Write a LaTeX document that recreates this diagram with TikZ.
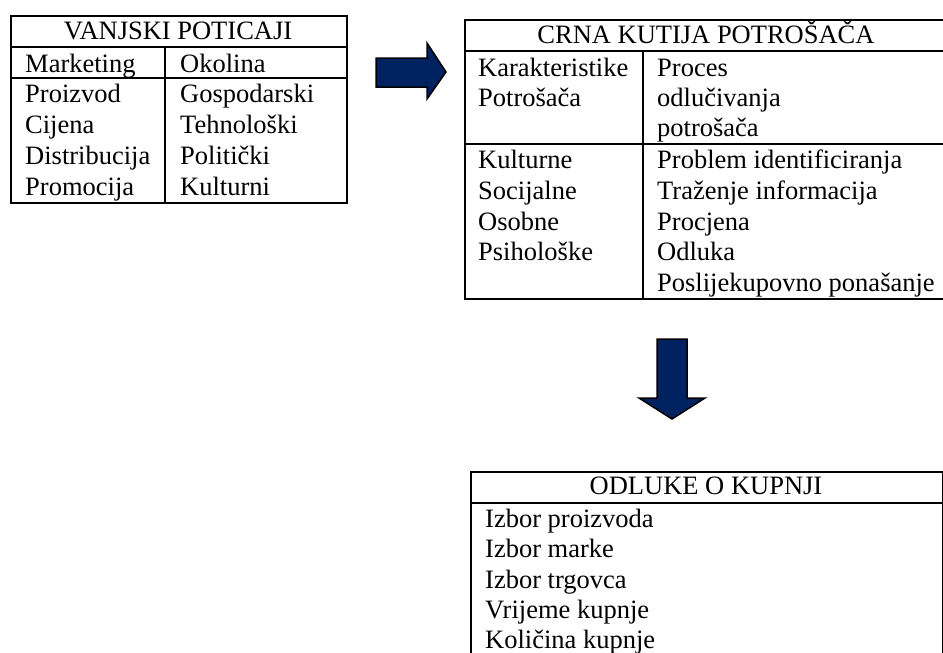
\documentclass[tikz,border=0pt]{standalone}
\usepackage{fontspec}
\setmainfont{Liberation Serif}
\definecolor{navy}{RGB}{0,34,96}
\begin{document}
\begin{tikzpicture}[x=1pt,y=-1pt,
  frame/.style={draw=black,line width=2.2pt},
  divline/.style={draw=black,line width=2.2pt},
  txt/.style={anchor=base west,inner sep=0pt,font=\fontsize{26.5}{30}\selectfont},
  hdr/.style={anchor=base,inner sep=0pt,font=\fontsize{26.5}{30}\selectfont},
  blockarrow/.style={fill=navy,draw=black,line width=1.5pt,line join=miter}]
\useasboundingbox (0,0) rectangle (943,653);
\begin{scope}
\clip (0,0) rectangle (943,653);
% Box 1: VANJSKI POTICAJI
\node[frame,rectangle,inner sep=0pt,minimum width=336pt,minimum height=187pt,anchor=north west] (b1) at (10,15) {};
\draw[divline] (10,47) -- (346,47);
\draw[divline] (10,78) -- (346,78);
\draw[divline] (165,47) -- (165,202);
\node[hdr] (h1) at (178,39) {VANJSKI POTICAJI};
\node[txt] (m0) at (25,72) {Marketing};
\node[txt] (o0) at (180,72) {Okolina};
\node[txt] (m1) at (25,102) {Proizvod};
\node[txt] (m2) at (25,133) {Cijena};
\node[txt] (m3) at (25,164) {Distribucija};
\node[txt] (m4) at (25,195) {Promocija};
\node[txt] (o1) at (180,102) {Gospodarski};
\node[txt] (o2) at (180,133) {Tehnološki};
\node[txt] (o3) at (180,164) {Politički};
\node[txt] (o4) at (180,195) {Kulturni};
% Box 2: CRNA KUTIJA
\node[frame,rectangle,inner sep=0pt,minimum width=484pt,minimum height=279pt,anchor=north west] (b2) at (464,19) {};
\draw[divline] (464,51) -- (960,51);
\draw[divline] (464,144) -- (960,144);
\draw[divline] (643,51) -- (643,298);
\node[hdr] (h2) at (706,43) {CRNA KUTIJA POTROŠAČA};
\node[txt] (k1) at (478,76) {Karakteristike};
\node[txt] (k2) at (478,106) {Potrošača};
\node[txt] (p1) at (657,76) {Proces};
\node[txt] (p2) at (657,106) {odlučivanja};
\node[txt] (p3) at (657,136) {potrošača};
\node[txt] (c1) at (478,168) {Kulturne};
\node[txt] (c2) at (478,199) {Socijalne};
\node[txt] (c3) at (478,230) {Osobne};
\node[txt] (c4) at (478,260) {Psihološke};
\node[txt] (s1) at (657,168) {Problem identificiranja};
\node[txt] (s2) at (657,199) {Traženje informacija};
\node[txt] (s3) at (657,230) {Procjena};
\node[txt] (s4) at (657,260) {Odluka};
\node[txt] (s5) at (657,291) {Poslijekupovno ponašanje};
% Box 3: ODLUKE O KUPNJI
\node[frame,rectangle,inner sep=0pt,minimum width=472pt,minimum height=220pt,anchor=north west] (b3) at (470,471) {};
\draw[divline] (470,503) -- (942,503);
\node[hdr] (h3) at (706,494) {ODLUKE O KUPNJI};
\node[txt] (d1) at (485,527) {Izbor proizvoda};
\node[txt] (d2) at (485,557) {Izbor marke};
\node[txt] (d3) at (485,588) {Izbor trgovca};
\node[txt] (d4) at (485,618) {Vrijeme kupnje};
\node[txt] (d5) at (485,648) {Količina kupnje};
% Block arrows
\draw[blockarrow] (376,58) -- (427,58) -- (427,43) -- (446,72) -- (427,99) -- (427,87) -- (376,87) -- cycle;
\draw[blockarrow] (657,339) -- (687,339) -- (687,398) -- (705,398) -- (672,419) -- (639,398) -- (657,398) -- cycle;
\end{scope}
\end{tikzpicture}
\end{document}
